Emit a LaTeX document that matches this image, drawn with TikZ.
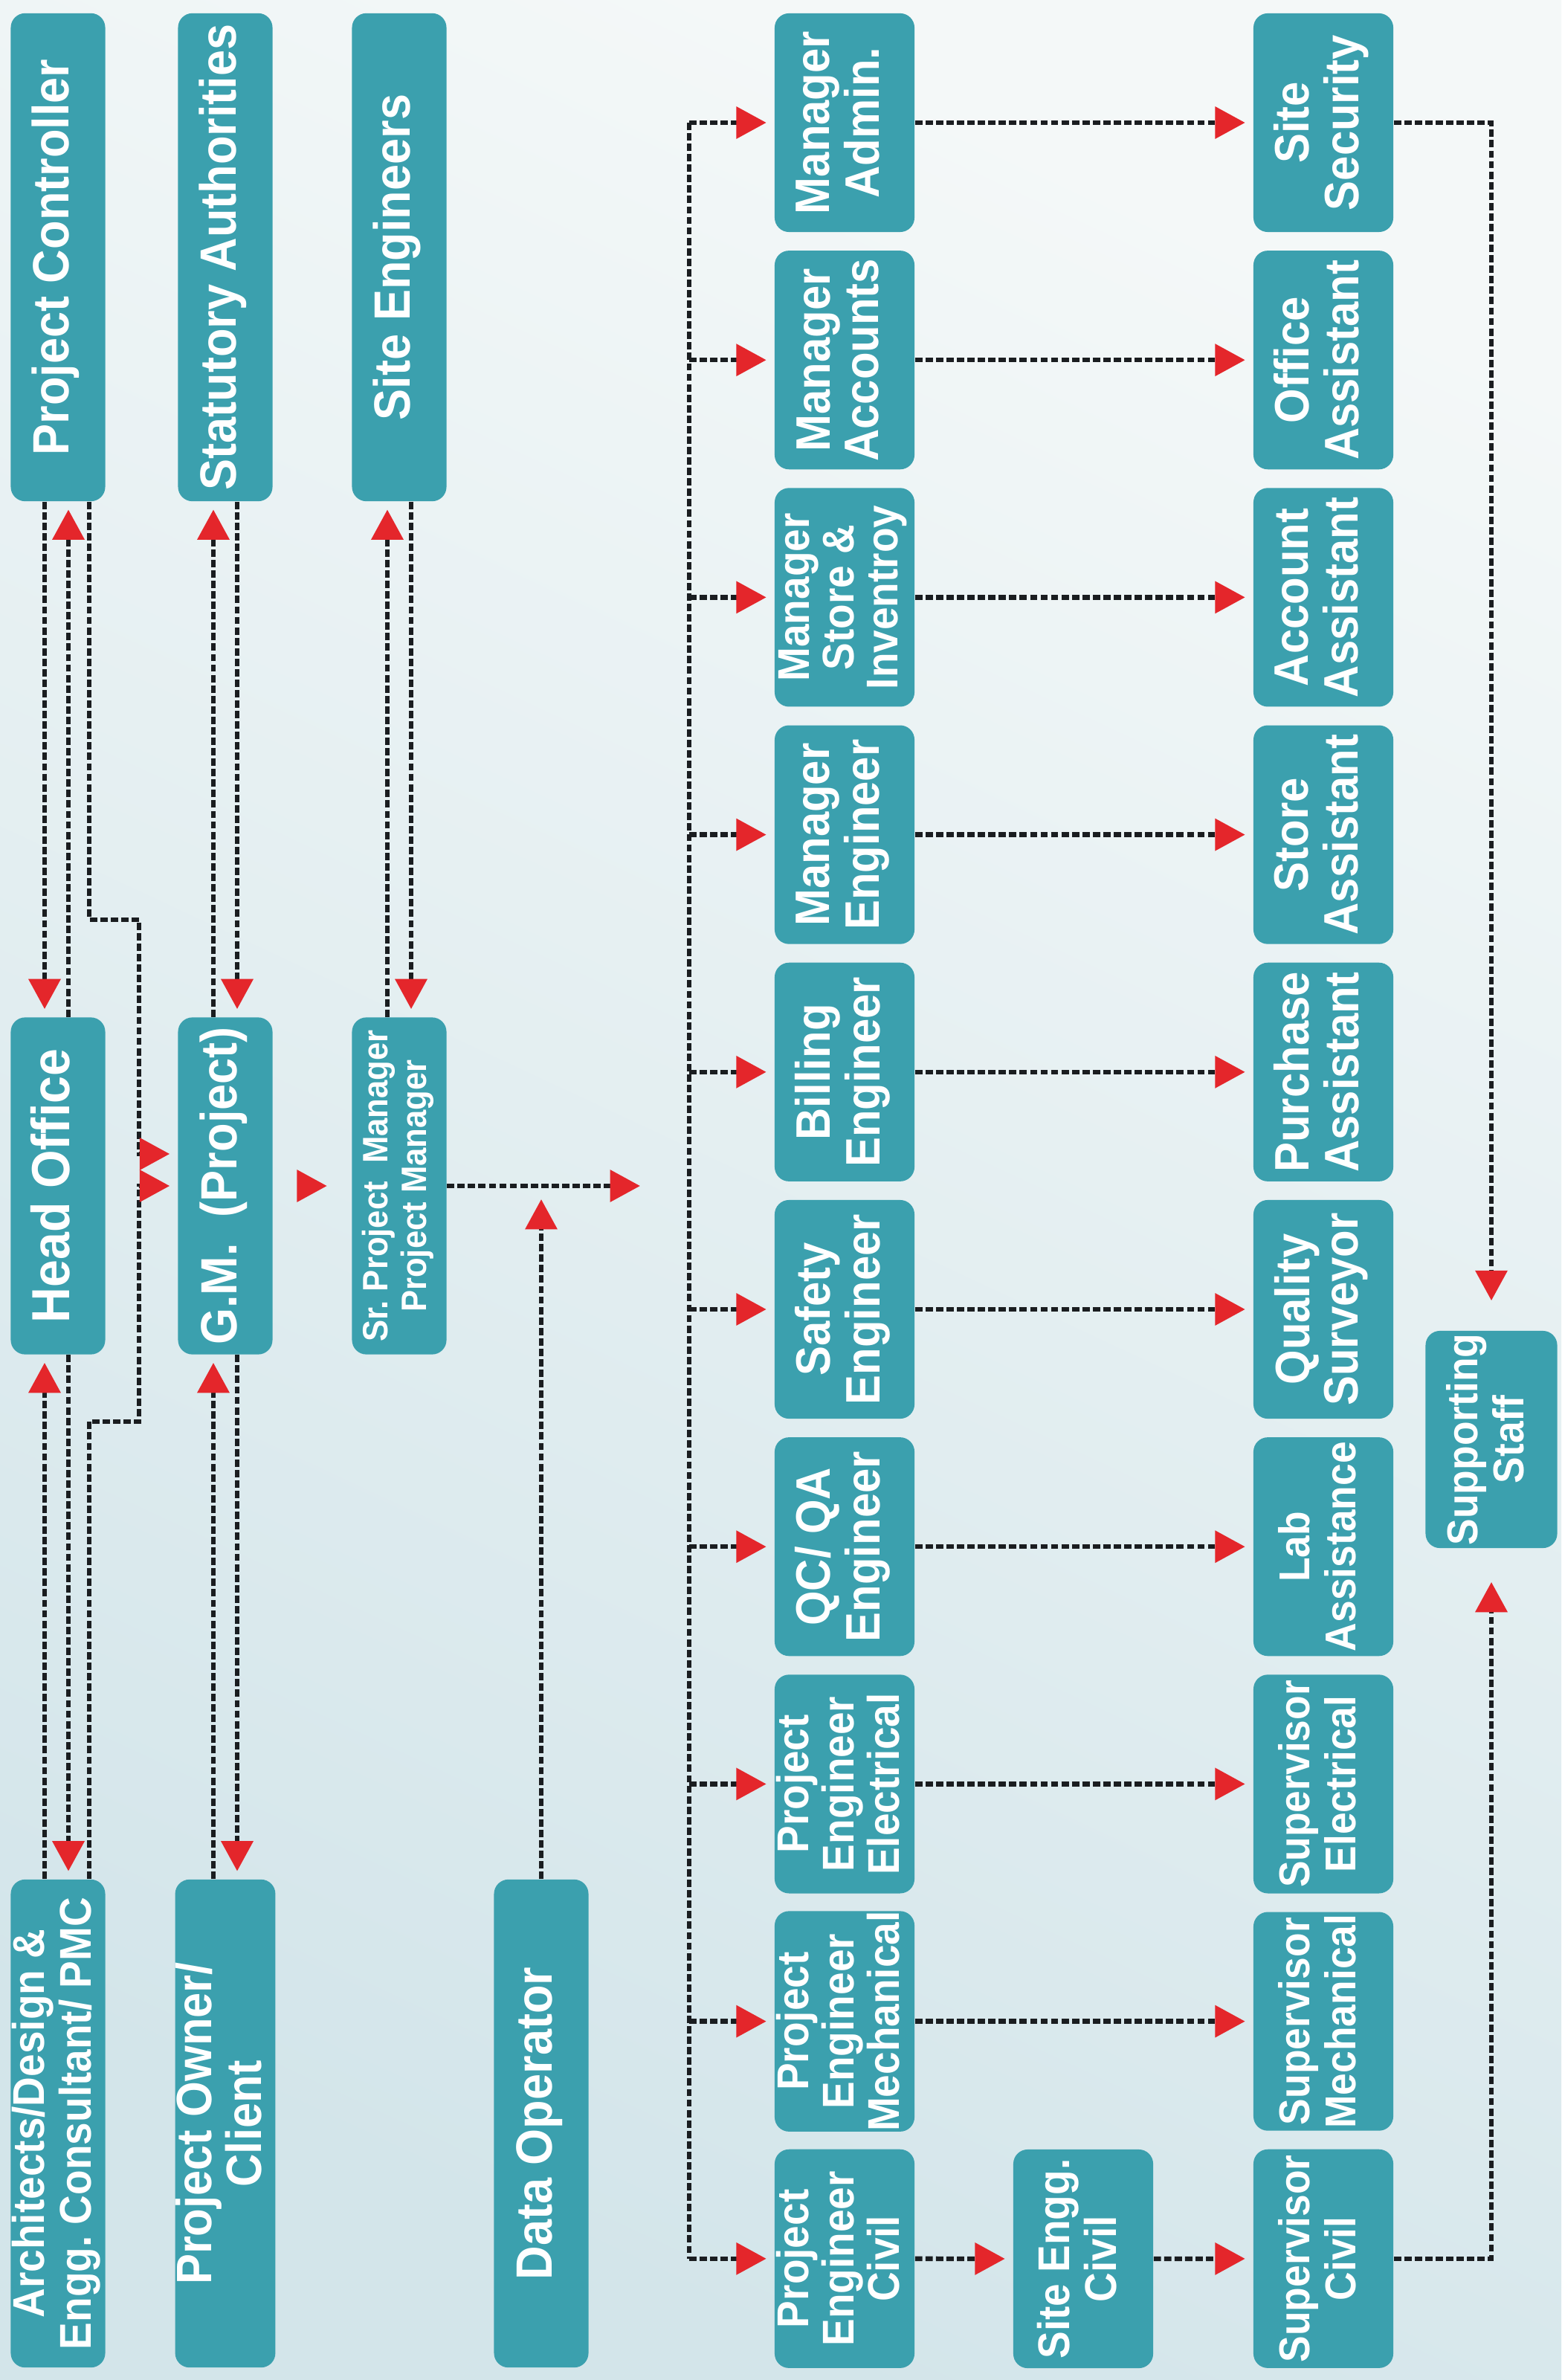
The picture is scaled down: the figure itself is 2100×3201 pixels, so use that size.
\documentclass[tikz,border=0pt]{standalone}
\usepackage{fontspec}
\setmainfont{Liberation Sans}[FakeStretch=0.92]
\usepackage{graphicx}
\usetikzlibrary{arrows.meta}
\frenchspacing

\definecolor{boxteal}{HTML}{3BA0AE}
\definecolor{tipred}{HTML}{E4262B}
\definecolor{linegray}{HTML}{1A1D20}
\definecolor{bgtop}{HTML}{F4F8F8}
\definecolor{bgbottom}{HTML}{D3E5EA}

\newcommand{\vtext}[1]{\rotatebox{90}{\begin{tabular}{@{}c@{}}#1\end{tabular}}}

\begin{document}
\begin{tikzpicture}[x=0.01cm, y=-0.01cm,
    every box/.style={fill=boxteal, text=white, rounded corners=5.5pt, inner sep=0pt},
    tall/.style={minimum width=1.27cm, minimum height=6.56cm, font=\bfseries\fontsize{19.5}{20}\selectfont},
    mid/.style={minimum width=1.27cm, minimum height=4.53cm, font=\bfseries\fontsize{20.5}{22}\selectfont},
    card/.style={minimum width=1.88cm, minimum height=2.94cm},
    two/.style={font=\bfseries\fontsize{18.5}{18.5}\selectfont},
    three/.style={font=\bfseries\fontsize{17}{16.8}\selectfont},
    small/.style={font=\bfseries\fontsize{16.5}{17.5}\selectfont},
    dashlink/.style={draw=linegray, line width=1.8pt, dash pattern=on 2.8pt off 1.2pt},
    redhead/.style={-{Triangle[length=11.5pt, width=12pt, color=tipred]}, shorten >=3pt}
  ]

  \useasboundingbox (0,0) rectangle (2100,3201);
  \shade[top color=bgtop, bottom color=bgbottom, shading angle=-25] (0,0) rectangle (2100,3201);

  \node [every box, tall] (pc)    at (78,346)  {\vtext{Project Controller}};
  \node [every box, tall] (stat)  at (303,346) {\vtext{Statutory Authorities}};
  \node [every box, tall] (site)  at (537,346) {\vtext{Site Engineers}};

  \node [every box, mid] (ho)  at (78,1595)  {\vtext{Head Office}};
  \node [every box, mid, font=\bfseries\fontsize{19.5}{22}\selectfont] (gm) at (303,1595)
    {\vtext{G.M.\ \ (Project)}};
  \node [every box, mid, font=\bfseries\fontsize{13.5}{15}\selectfont] (spm) at (537,1595)
    {\vtext{Sr. Project\ \ Manager\\Project Manager}};

  \node [every box, tall, font=\bfseries\fontsize{17}{18}\selectfont] (arch) at (78,2856)
    {\vtext{Architects/Design \&\\Engg. Consultant/ PMC}};
  \node [every box, tall, font=\bfseries\fontsize{19}{18}\selectfont] (owner) at (303,2856)
    {\vtext{Project Owner/\\Client}};
  \node [every box, tall] (dop) at (728,2856) {\vtext{Data Operator}};

  \foreach \t/\s [count=\i] in {{Manager\\Admin.}/two, {Manager\\Accounts}/two,
      {Manager\\Store \&\\Inventroy}/three, {Manager\\Engineer}/two, {Billing\\Engineer}/two,
      {Safety\\Engineer}/two, {QC/ QA\\Engineer}/two, {Project\\Engineer\\Electrical}/three,
      {Project\\Engineer\\Mechanical}/three, {Project\\Engineer\\Civil}/three}
    \node [every box, card, \s] (mgr-\i) at (1136,-154.2+319.2*\i) {\vtext{\t}};

  \foreach \t/\s [count=\i] in {{Site\\Security}/two, {Office\\Assistant}/two,
      {Account\\Assistant}/two, {Store\\Assistant}/two, {Purchase\\Assistant}/two,
      {Quality\\Surveyor}/two, {Lab\\Assistance}/small, {Supervisor\\Electrical}/small,
      {Supervisor\\Mechanical}/small, {Supervisor\\Civil}/small}
    \node [every box, card, \s] (asst-\i) at (1780,-154.2+319.2*\i) {\vtext{\t}};

  \node [every box, card, font=\bfseries\fontsize{17}{18}\selectfont] (sec) at (1457,3038)
    {\vtext{Site Engg.\\Civil}};
  \node [every box, card, small, minimum width=1.77cm, minimum height=2.92cm] (staff) at (2006,1936)
    {\vtext{Supporting\\Staff}};

  \coordinate (jog) at (187,0);
  \coordinate (bus) at (927,0);
  \coordinate (gm-in) at ([yshift=.43cm]gm.west);

  \draw [dashlink, redhead] ([xshift=-.18cm]pc.south) -- ([xshift=-.18cm]ho.north);
  \draw [dashlink, redhead] ([xshift=.14cm]ho.north) -- ([xshift=.14cm]pc.south);
  \draw [dashlink, redhead] ([xshift=-.18cm]arch.north) -- ([xshift=-.18cm]ho.south);
  \draw [dashlink, redhead] ([xshift=.14cm]ho.south) -- ([xshift=.14cm]arch.north);
  \draw [dashlink, redhead] ([xshift=.42cm]pc.south) -- ++(0,562) -| (gm-in -| jog) -- (gm-in);
  \draw [dashlink, redhead] ([xshift=.42cm]arch.north) -- ++(0,-615) -| (gm.west -| jog) -- (gm.west);

  \foreach \top/\low in {stat/gm, site/spm} {
    \draw [dashlink, redhead] ([xshift=-.16cm]\low.north) -- ([xshift=-.16cm]\top.south);
    \draw [dashlink, redhead] ([xshift=.16cm]\top.south) -- ([xshift=.16cm]\low.north);
  }
  \draw [dashlink, redhead] ([xshift=-.16cm]owner.north) -- ([xshift=-.16cm]gm.south);
  \draw [dashlink, redhead] ([xshift=.16cm]gm.south) -- ([xshift=.16cm]owner.north);

  \draw [dashlink, redhead, shorten <=.36cm, shorten >=.33cm] (gm.east) -- (spm.west);
  \draw [dashlink, redhead, shorten >=.66cm] (spm.east) -- (spm.east -| bus);
  \draw [dashlink, redhead, shorten >=.18cm] (dop.north) -- (dop.north |- spm.east);

  \draw [dashlink] (mgr-1.west -| bus) -- (mgr-10.west -| bus);
  \foreach \i in {1,...,10}
    \draw [dashlink, redhead] (mgr-\i.west -| bus) -- (mgr-\i.west);
  \foreach \i in {1,...,9}
    \draw [dashlink, redhead] (mgr-\i) -- (asst-\i);
  \draw [dashlink, redhead] (mgr-10) -- (sec);
  \draw [dashlink, redhead] (sec) -- (asst-10);

  \draw [dashlink, redhead, shorten >=.4cm] (asst-1.east) -| (staff.north);
  \draw [dashlink, redhead, shorten >=.45cm] (asst-10.east) -| (staff.south);

\end{tikzpicture}
\end{document}
